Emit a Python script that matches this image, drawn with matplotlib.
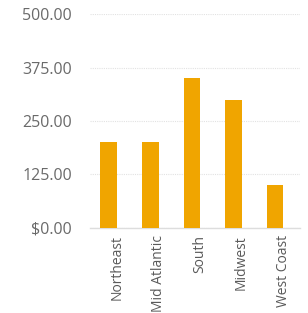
import matplotlib
matplotlib.use("Agg")
import matplotlib.pyplot as plt
from matplotlib.transforms import ScaledTranslation

regions = ["Northeast", "Mid Atlantic", "South", "Midwest", "West Coast"]
sales = [200, 200, 350, 300, 100]
y_ticks = [0, 125, 250, 375, 500]
y_labels = ["$0.00", "125.00", "250.00", "375.00", "500.00"]

plt.rcParams['font.family'] = ['Open Sans', 'DejaVu Sans']

fig = plt.figure(figsize=(3.08, 3.13), dpi=100)
ax = fig.add_axes([0.292, 0.272, 0.682, 0.683])

x = list(range(len(regions)))
ax.bar(x, sales, width=0.4, color="#F0A500", zorder=3)

ax.set_ylim(0, 500)
ax.set_xlim(-0.45, 4.6)
ax.set_yticks(y_ticks)
ax.set_yticklabels(y_labels, fontsize=11.5, color="#6a6a6a")
ax.set_xticks(x)
ax.set_xticklabels(regions, rotation=90, fontsize=10, color="#5a5a5a")
ax.tick_params(axis="both", length=0)
ax.tick_params(axis="x", pad=5)
ax.tick_params(axis="y", pad=13)

# labels sit a little right of the bars in the original
shift = ScaledTranslation(8 / 100, 0, fig.dpi_scale_trans)
for lbl in ax.get_xticklabels():
    lbl.set_transform(lbl.get_transform() + shift)

ax.grid(axis="y", color="#e2e2e2", linestyle=(0, (1, 1)), linewidth=0.8, zorder=0)
for side in ["top", "right", "left"]:
    ax.spines[side].set_visible(False)
ax.spines["bottom"].set_color("#dddddd")
ax.spines["bottom"].set_linewidth(1.0)

fig.savefig("out.png", dpi=100)
